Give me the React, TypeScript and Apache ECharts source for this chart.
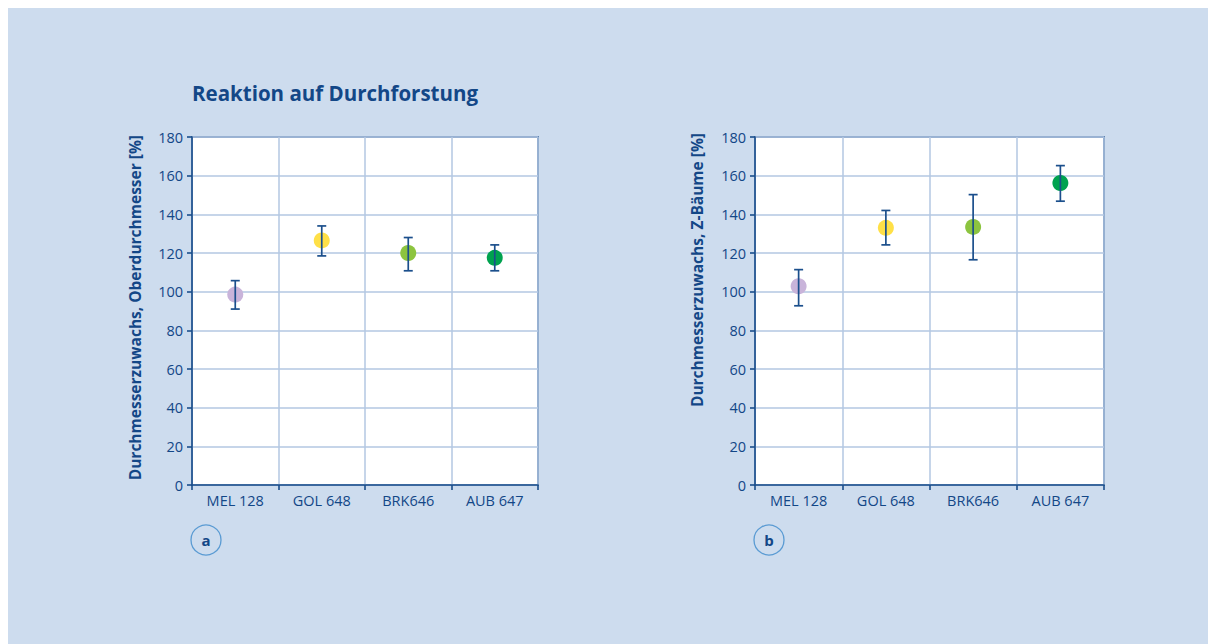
import React, { useEffect, useRef } from "react";
import * as echarts from "echarts";

const categories = ["MEL 128", "GOL 648", "BRK646", "AUB 647"];
const meanA = [98.5, 126.5, 120, 117.5];
const lowA = [91, 118.5, 110.8, 110.8];
const highA = [105.7, 134, 128, 124.2];
const meanB = [102.8, 133, 133.5, 156.2];
const lowB = [92.7, 124.2, 116.5, 146.8];
const highB = [111.4, 142, 150.2, 165.2];
const yTicks = { min: 0, max: 180, interval: 20 };
const pointColors = ["#c9b4da", "#ffe047", "#8cc43f", "#00a24f"];

const DARK = "#1b4f8c";
const TEXT = "#134787";
const GRIDC = "#b3c7e2";
const FONT = "'Open Sans', 'Noto Sans', sans-serif";

export default function App() {
  const ref = useRef<HTMLDivElement>(null);
  useEffect(() => {
    if (!ref.current) return;
    const chart = echarts.init(ref.current, undefined, { renderer: "svg" });
    const grids = [
      { left: 185, top: 132, width: 346, height: 348 },
      { left: 748, top: 132, width: 349, height: 348 },
    ];
    const xAxis = grids.map((_, i) => ({
      type: "category",
      gridIndex: i,
      data: categories,
      boundaryGap: true,
      axisLine: { lineStyle: { color: DARK, width: 1.6 } },
      axisTick: { show: true, length: 5, lineStyle: { color: DARK, width: 1.6 } },
      axisLabel: { color: TEXT, fontSize: 14.5, fontFamily: FONT, margin: 8 },
      splitLine: { show: true, lineStyle: { color: GRIDC, width: 1.5 } },
    }));
    const yAxis = grids.map((_, i) => ({
      type: "value",
      gridIndex: i,
      min: yTicks.min,
      max: yTicks.max,
      interval: yTicks.interval,
      axisLine: { show: true, lineStyle: { color: DARK, width: 1.6 } },
      axisTick: { show: true, length: 5, lineStyle: { color: DARK, width: 1.6 } },
      axisLabel: { color: TEXT, fontSize: 14.5, fontFamily: FONT, margin: 9 },
      splitLine: { show: true, lineStyle: { color: GRIDC, width: 1.5 } },
    }));
    const sets = [
      { mean: meanA, low: lowA, high: highA },
      { mean: meanB, low: lowB, high: highB },
    ];
    const series: any[] = [];
    sets.forEach((s, i) => {
      series.push({
        type: "scatter",
        xAxisIndex: i,
        yAxisIndex: i,
        symbolSize: 16,
        z: 3,
        data: s.mean.map((v, k) => ({ value: [k, v], itemStyle: { color: pointColors[k], opacity: 1 } })),
      });
      series.push({
        type: "custom",
        xAxisIndex: i,
        yAxisIndex: i,
        z: 4,
        encode: { x: 0, y: [1, 2] },
        data: s.low.map((v, k) => [k, v, s.high[k]]),
        renderItem: (params: any, api: any) => {
          const x = api.value(0);
          const lo = api.coord([x, api.value(1)]);
          const hi = api.coord([x, api.value(2)]);
          const hw = 4.5;
          const st = { stroke: DARK, lineWidth: 1.7 };
          return {
            type: "group",
            children: [
              { type: "line", shape: { x1: lo[0], y1: lo[1], x2: hi[0], y2: hi[1] }, style: st },
              { type: "line", shape: { x1: lo[0] - hw, y1: lo[1], x2: lo[0] + hw, y2: lo[1] }, style: st },
              { type: "line", shape: { x1: hi[0] - hw, y1: hi[1], x2: hi[0] + hw, y2: hi[1] }, style: st },
            ],
          };
        },
      });
    });
    const yNames = ["Durchmesserzuwachs, Oberdurchmesser [%]", "Durchmesserzuwachs, Z-Bäume [%]"];
    const nameX = [128, 690];
    const nameTop = [130, 128];
    const badge = [
      { x: 199, t: "a" },
      { x: 762, t: "b" },
    ];
    const graphic: any[] = [
      {
        type: "text",
        x: 185,
        y: 88,
        style: { text: "Reaktion auf Durchforstung", fill: TEXT, font: `bold 20.5px ${FONT}`, verticalAlign: "middle" },
      },
    ];
    yNames.forEach((n, i) => {
      graphic.push({
        type: "text",
        x: nameX[i],
        y: nameTop[i],
        rotation: Math.PI / 2,
        style: {
          text: n,
          fill: TEXT,
          font: `bold 15.5px ${FONT}`,
          align: "right",
          verticalAlign: "middle",
        },
      });
    });
    badge.forEach((b) => {
      graphic.push({
        type: "circle",
        shape: { cx: b.x, cy: 535, r: 15 },
        style: { fill: "none", stroke: "#5a9bd3", lineWidth: 1.3 },
      });
      graphic.push({
        type: "text",
        x: b.x,
        y: 535,
        style: { text: b.t, fill: TEXT, font: `bold 15px ${FONT}`, align: "center", verticalAlign: "middle" },
      });
    });
    chart.setOption({
      animation: false,
      backgroundColor: "#cddcee",
      grid: grids.map((g) => ({
        ...g,
        show: true,
        backgroundColor: "#ffffff",
        borderColor: DARK,
        borderWidth: 1.6,
      })),
      xAxis,
      yAxis,
      series,
      graphic,
    });
    return () => chart.dispose();
  }, []);
  return (
    <div
      ref={ref}
      style={{ position: "relative", left: -1, top: -3, width: 1209, height: 639 }}
    />
  );
}
